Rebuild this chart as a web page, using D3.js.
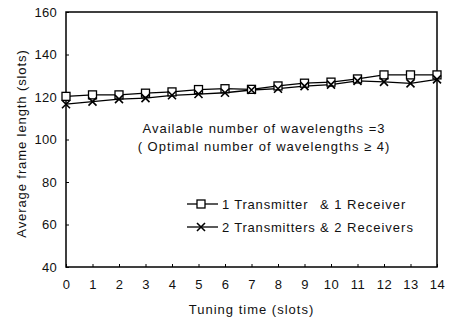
<!DOCTYPE html>
<html>
<head>
<meta charset="utf-8">
<script src="https://cdn.jsdelivr.net/npm/d3@7"></script>
<style>
  body { margin: 0; background: #fff; }
  text { font-family: Arial, "Liberation Sans", sans-serif; fill: #111; }
</style>
</head>
<body>
<div id="plot"></div>
<script>
// values
const tuningTime = [0, 1, 2, 3, 4, 5, 6, 7, 8, 9, 10, 11, 12, 13, 14];
const oneTxRx = [120.3, 121, 121, 121.8, 122.4, 123.5, 123.9, 123.6, 125.2, 126.5, 127, 128.5, 130.4, 130.4, 130.4];
const twoTxRx = [116.6, 117.8, 119, 119.5, 120.8, 121.4, 122, 123.3, 123.9, 125.1, 125.8, 127.6, 127.1, 126.4, 128.3];
const yTicks = [40, 60, 80, 100, 120, 140, 160];
const seriesNames = ["1 Transmitter & 1 Receiver", "2 Transmitters & 2 Receivers"];

const margin = { top: 12, right: 14, bottom: 53, left: 66 };
const width = 451 - margin.left - margin.right;
const height = 320 - margin.top - margin.bottom;

const svg = d3.select("#plot")
    .append("svg")
    .attr("width", 451)
    .attr("height", 320)
    .append("g")
    .attr("transform", "translate(" + margin.left + "," + margin.top + ")");

const x = d3.scaleLinear().domain([0, 14]).range([0, width]);
const y = d3.scaleLinear().domain([40, 160]).range([height, 0]);

// frame
svg.append("rect")
    .attr("width", width)
    .attr("height", height)
    .attr("fill", "none")
    .attr("stroke", "#000")
    .attr("stroke-width", 1.5);

// axes with inward ticks
const xAxis = svg.append("g")
    .attr("transform", "translate(0," + height + ")")
    .call(d3.axisBottom(x).tickValues(tuningTime).tickSize(-3).tickPadding(13).tickFormat(d3.format("d")));
xAxis.select(".domain").remove();
xAxis.selectAll("text").style("font-size", "13px").style("letter-spacing", "0.5px");

const yAxis = svg.append("g")
    .call(d3.axisLeft(y).tickValues(yTicks).tickSize(-3).tickPadding(9));
yAxis.select(".domain").remove();
yAxis.selectAll("text").style("font-size", "13px").style("letter-spacing", "0.3px");

// axis titles
svg.append("text")
    .attr("x", width / 2)
    .attr("y", height + 47)
    .attr("text-anchor", "middle")
    .style("font-size", "13px")
    .style("letter-spacing", "1px")
    .text("Tuning time (slots)");

svg.append("text")
    .attr("transform", "rotate(-90)")
    .attr("x", -height / 2 - 4)
    .attr("y", -40)
    .attr("text-anchor", "middle")
    .style("font-size", "13px")
    .style("letter-spacing", "0.9px")
    .text("Average frame length (slots)");

// lines
const line = d3.line().x((d, i) => x(tuningTime[i])).y(d => y(d));

svg.append("path").datum(oneTxRx)
    .attr("fill", "none").attr("stroke", "#000").attr("stroke-width", 1.3)
    .attr("d", line);
svg.append("path").datum(twoTxRx)
    .attr("fill", "none").attr("stroke", "#000").attr("stroke-width", 1.3)
    .attr("d", line);

function square(g, cx, cy) {
    g.append("rect")
        .attr("x", cx - 4).attr("y", cy - 4)
        .attr("width", 8).attr("height", 8)
        .attr("fill", "#fff").attr("stroke", "#000").attr("stroke-width", 1.3);
}
function cross(g, cx, cy) {
    g.append("path")
        .attr("d", "M" + (cx - 4) + "," + (cy - 4) + "L" + (cx + 4) + "," + (cy + 4) +
                   "M" + (cx - 4) + "," + (cy + 4) + "L" + (cx + 4) + "," + (cy - 4))
        .attr("stroke", "#000").attr("stroke-width", 1.6);
}

oneTxRx.forEach((v, i) => square(svg, x(tuningTime[i]), y(v)));
twoTxRx.forEach((v, i) => cross(svg, x(tuningTime[i]), y(v)));

// annotation
svg.append("text")
    .attr("x", 198).attr("y", 121)
    .attr("text-anchor", "middle")
    .style("font-size", "13px")
    .style("letter-spacing", "1px")
    .text("Available number of wavelengths  =3");
svg.append("text")
    .attr("x", 198).attr("y", 139)
    .attr("text-anchor", "middle")
    .style("font-size", "13px")
    .style("letter-spacing", "1px")
    .text("( Optimal number of wavelengths \u2265 4)");

// legend
const legend = svg.append("g");
seriesNames.forEach((name, i) => {
    const ly = 192 + i * 23;
    const parts = name.split("&");
    legend.append("line")
        .attr("x1", 121).attr("x2", 152)
        .attr("y1", ly).attr("y2", ly)
        .attr("stroke", "#000").attr("stroke-width", 1.3);
    if (i === 0) square(legend, 135, ly); else cross(legend, 135, ly);
    legend.append("text")
        .attr("x", 156).attr("y", ly + 5)
        .style("font-size", "13px")
        .style("letter-spacing", "0.8px")
        .text(parts[0].trim());
    legend.append("text")
        .attr("x", 254).attr("y", ly + 5)
        .style("font-size", "13px")
        .style("letter-spacing", "1px")
        .text("&" + parts[1]);
});
</script>
</body>
</html>
